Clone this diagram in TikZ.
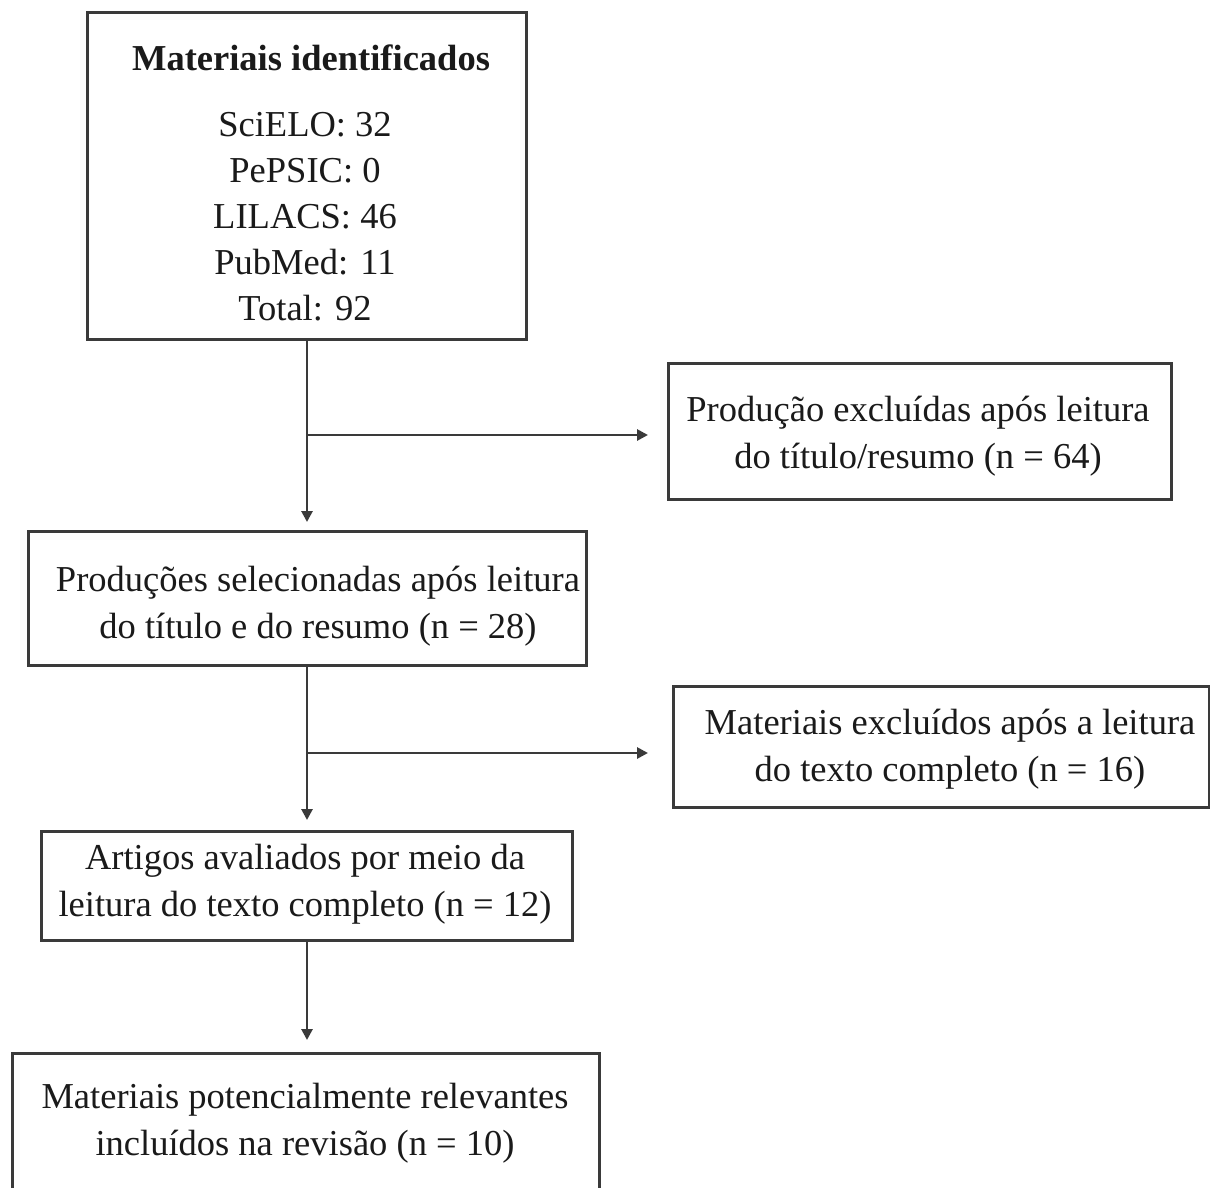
\documentclass[tikz,border=0pt]{standalone}
\usepackage{fontspec}
\setmainfont{Liberation Serif}
\usetikzlibrary{arrows.meta,calc}
\definecolor{linec}{HTML}{3A3A3A}
\definecolor{textc}{HTML}{1A1A1A}
\begin{document}
\begin{tikzpicture}[x=1pt,y=-1pt,
  box/.style={draw=linec,line width=3pt,anchor=north west,inner sep=0pt},
  txt/.style={text=textc,align=center,inner sep=0pt,font=\fontsize{36.5}{47}\selectfont},
  arr/.style={draw=linec,line width=2.8pt,-{Triangle[length=11pt,width=11pt]}}]
\clip (0,0) rectangle (1210,1188);
\fill[white] (0,0) rectangle (1210,1188);
% boxes
\node[box,minimum width=439,minimum height=327] (b1) at (86,11) {};
\node[box,minimum width=503,minimum height=136] (r1) at (667,362) {};
\node[box,minimum width=558,minimum height=134] (b2) at (27,530) {};
\node[box,minimum width=536,minimum height=121] (r2) at (672,685) {};
\node[box,minimum width=531,minimum height=109] (b3) at (40,830) {};
\node[box,minimum width=587,minimum height=200] (b4) at (11,1052) {};
% texts
\node[txt,font=\fontsize{36.5}{46}\selectfont\bfseries] (t1a) at (311,58) {Materiais identificados};
\node[txt,font=\fontsize{36.5}{46}\selectfont,anchor=north] (t1b) at (305,112) {SciELO: 32\\PePSIC: 0\\LILACS: 46\\PubMed: 11\\Total: 92};
\node[txt] (tr1) at (918,436) {Produção excluídas após leitura\\do título/resumo (n = 64)};
\node[txt] (t2) at (318,606) {Produções selecionadas após leitura\\do título e do resumo (n = 28)};
\node[txt] (tr2) at (950,749) {Materiais excluídos após a leitura\\do texto completo (n = 16)};
\node[txt] (t3) at (305,884) {Artigos avaliados por meio da\\leitura do texto completo (n = 12)};
\node[txt] (t4) at (305,1123) {Materiais potencialmente relevantes\\incluídos na revisão (n = 10)};
% connectors
\coordinate (xa) at (307,0);
\coordinate (j1) at (307,435);
\coordinate (j2) at (307,753);
\draw[arr,shorten >=8pt] (b1.south -| xa) -- (b2.north -| xa);
\draw[arr,shorten >=19pt] (j1) -- (j1 -| r1.west);
\draw[arr,shorten >=10pt] (b2.south -| xa) -- (b3.north -| xa);
\draw[arr,shorten >=24pt] (j2) -- (j2 -| r2.west);
\draw[arr,shorten >=12pt] (b3.south -| xa) -- (b4.north -| xa);
\end{tikzpicture}
\end{document}
